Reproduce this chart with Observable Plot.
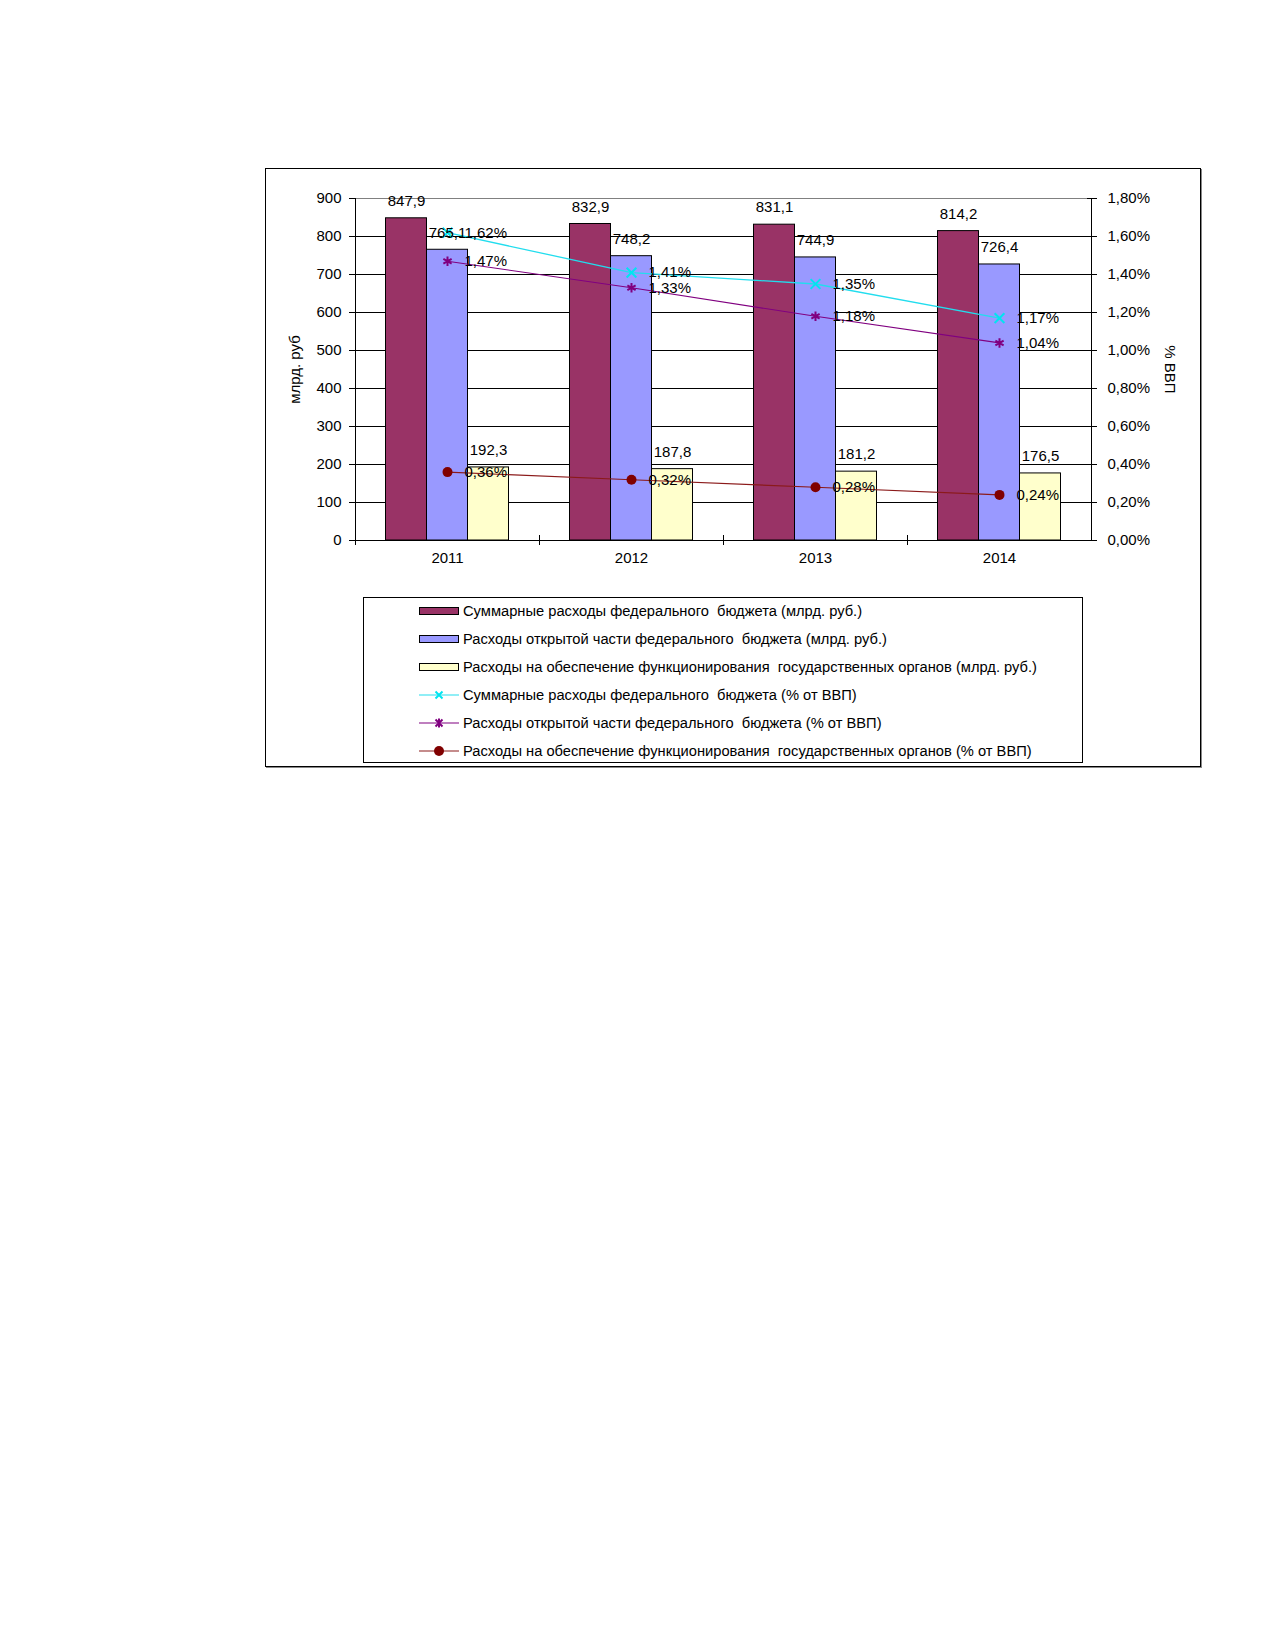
<!DOCTYPE html>
<html>
<head>
<meta charset="utf-8">
<script src="https://cdn.jsdelivr.net/npm/d3@7"></script>
<script src="https://cdn.jsdelivr.net/npm/@observablehq/plot@0.6"></script>
<style>
  body { margin: 0; background: #fff; font-family: "Liberation Sans", Arial, sans-serif; }
  #frame { position: absolute; left: 265px; top: 168px; width: 934px; height: 597px;
           border: 1px solid #000; box-shadow: 1px 1px 0 #888; background: #fff; }
  #chart { position: absolute; left: 0; top: 0; }
  #legend { position: absolute; left: 97px; top: 428px; width: 718px; height: 164px;
            border: 1px solid #000; background: #fff; }
  .row { position: absolute; left: 55px; height: 20px; display: flex; align-items: center;
         font-size: 14.7px; white-space: pre; color: #000; }
  .row svg { margin-right: 4px; overflow: visible; }
</style>
</head>
<body>
<div id="frame">
  <div id="chart"></div>
  <div id="legend"></div>
</div>
<script>
// ---- data ----
const years = [2011, 2012, 2013, 2014];
const totalBn = [847.9, 832.9, 831.1, 814.2];
const openBn = [765.1, 748.2, 744.9, 726.4];
const govBn = [192.3, 187.8, 181.2, 176.5];
const totalPct = [1.62, 1.41, 1.35, 1.17];
const openPct = [1.47, 1.33, 1.18, 1.04];
const govPct = [0.36, 0.32, 0.28, 0.24];
const leftTicks = [0, 100, 200, 300, 400, 500, 600, 700, 800, 900];
const leftMax = 900;
const rightMax = 1.8;
const leftTitle = "млрд. руб";
const rightTitle = "% ВВП";
const seriesNames = [
  "Суммарные расходы федерального  бюджета (млрд. руб.)",
  "Расходы открытой части федерального  бюджета (млрд. руб.)",
  "Расходы на обеспечение функционирования  государственных органов (млрд. руб.)",
  "Суммарные расходы федерального  бюджета (% от ВВП)",
  "Расходы открытой части федерального  бюджета (% от ВВП)",
  "Расходы на обеспечение функционирования  государственных органов (% от ВВП)"
];

// ---- styles ----
const barFills = ["#993366", "#9999FF", "#FFFFCC"];
const lineStrokes = ["#22DDEE", "#800080", "#8B1A1A"];
const markerFills = ["none", "none", "#800000"];
const markerStrokes = ["#00E5F0", "#800080", "#800000"];
const symbols = ["times", "asterisk", "circle"];

const W = 934, H = 410, mL = 89, mR = 109, mT = 29, mB = 39;
const step = (W - mL - mR) / years.length;
const barW = step * 41 / 184;
const ratio = leftMax / rightMax;
const fmt1 = v => v.toFixed(1).replace(".", ",");
const fmtPct = v => v.toFixed(2).replace(".", ",") + "%";

const barSets = [totalBn, openBn, govBn].map((vals, i) =>
  years.map((y, j) => ({year: y, value: vals[j], i})));
const lineSets = [totalPct, openPct, govPct].map((vals, i) =>
  years.map((y, j) => ({year: y, value: vals[j], i})));

const marks = [];
marks.push(Plot.ruleY(leftTicks.filter(t => t < leftMax), {stroke: "#000", strokeWidth: 1}));
marks.push(Plot.ruleY([leftMax], {stroke: "#808080", strokeWidth: 1}));
barSets.forEach((data, i) => {
  marks.push(Plot.barY(data, {
    x: "year", y: "value", fill: barFills[i], stroke: "#000", strokeWidth: 1,
    insetLeft: (step - barW) / 2, insetRight: (step - barW) / 2, dx: (i - 1) * barW
  }));
});
lineSets.forEach((data, i) => {
  marks.push(Plot.line(data, {x: "year", y: d => d.value * ratio, stroke: lineStrokes[i], strokeWidth: i === 0 ? 1.3 : 1.1}));
});
lineSets.forEach((data, i) => {
  marks.push(Plot.dot(data, {
    x: "year", y: d => d.value * ratio, symbol: symbols[i],
    r: i === 2 ? 5 : 4.5, fill: markerFills[i], stroke: markerStrokes[i], strokeWidth: i === 2 ? 0 : 2
  }));
});
barSets.forEach((data, i) => {
  marks.push(Plot.text(data, {
    x: "year", y: "value", text: d => fmt1(d.value), dx: (i - 1) * barW, dy: -17,
    fontSize: 15, fill: "#000"
  }));
});
lineSets.forEach((data, i) => {
  marks.push(Plot.text(data, {
    x: "year", y: d => d.value * ratio, text: d => fmtPct(d.value), dx: 17,
    textAnchor: "start", fontSize: 15, fill: "#000"
  }));
});
// axis lines
marks.push(Plot.ruleX([years[0]], {dx: -step / 2, stroke: "#000"}));
marks.push(Plot.ruleX([years[years.length - 1]], {dx: step / 2, stroke: "#000"}));
marks.push(Plot.ruleY([0], {stroke: "#000"}));
// axes
marks.push(Plot.axisY(leftTicks, {anchor: "left", tickSize: 6, tickPadding: 8, fontSize: 15, label: null}));
marks.push(Plot.axisY(leftTicks, {anchor: "right", tickSize: 5, tickPadding: 11, fontSize: 15, label: null,
  tickFormat: d => fmtPct(d / ratio)}));
marks.push(Plot.axisY(leftTicks, {anchor: "right", tickSize: 5, dx: -5, tickFormat: () => "", label: null}));
marks.push(Plot.axisX({anchor: "bottom", tickSize: 0, tickPadding: 12, fontSize: 15, label: null,
  tickFormat: d => String(d)}));
marks.push(Plot.axisX({anchor: "bottom", tickSize: 10, dy: -5, dx: -step / 2, tickFormat: () => "", label: null}));
// axis titles
marks.push(Plot.text([leftTitle], {frameAnchor: "left", textAnchor: "middle", rotate: -90, dx: -60, fontSize: 15, fill: "#000"}));
marks.push(Plot.text([rightTitle], {frameAnchor: "right", textAnchor: "middle", rotate: 90, dx: 78, fontSize: 15, fill: "#000"}));

const chart = Plot.plot({
  width: W, height: H,
  marginLeft: mL, marginRight: mR, marginTop: mT, marginBottom: mB,
  x: {type: "band", domain: years, padding: 0, axis: null},
  y: {domain: [0, leftMax], axis: null},
  style: {fontFamily: "'Liberation Sans', Arial, sans-serif", fontSize: "15px", color: "#000", background: "transparent", overflow: "visible"},
  marks
});
document.getElementById("chart").appendChild(chart);

// ---- legend ----
const legend = document.getElementById("legend");
seriesNames.forEach((name, k) => {
  const row = document.createElement("div");
  row.className = "row";
  row.style.top = (12.5 + 28 * k - 10) + "px";
  let sw;
  if (k < 3) {
    sw = `<svg width="40" height="20"><rect x="0.5" y="6.5" width="39" height="7" fill="${barFills[k]}" stroke="#000"/></svg>`;
  } else {
    const i = k - 3;
    let m;
    if (i === 0) m = `<path d="M16.5,6.5L23.5,13.5M23.5,6.5L16.5,13.5" stroke="${markerStrokes[0]}" stroke-width="2"/>`;
    else if (i === 1) m = `<path d="M16.5,6.5L23.5,13.5M23.5,6.5L16.5,13.5M20,5.5L20,14.5" stroke="${markerStrokes[1]}" stroke-width="2"/>`;
    else m = `<circle cx="20" cy="10" r="5" fill="${markerFills[2]}"/>`;
    sw = `<svg width="40" height="20"><line x1="0" y1="10" x2="40" y2="10" stroke="${lineStrokes[i]}" stroke-width="1.2"/>${m}</svg>`;
  }
  row.innerHTML = sw + `<span>${name}</span>`;
  legend.appendChild(row);
});
</script>
</body>
</html>
